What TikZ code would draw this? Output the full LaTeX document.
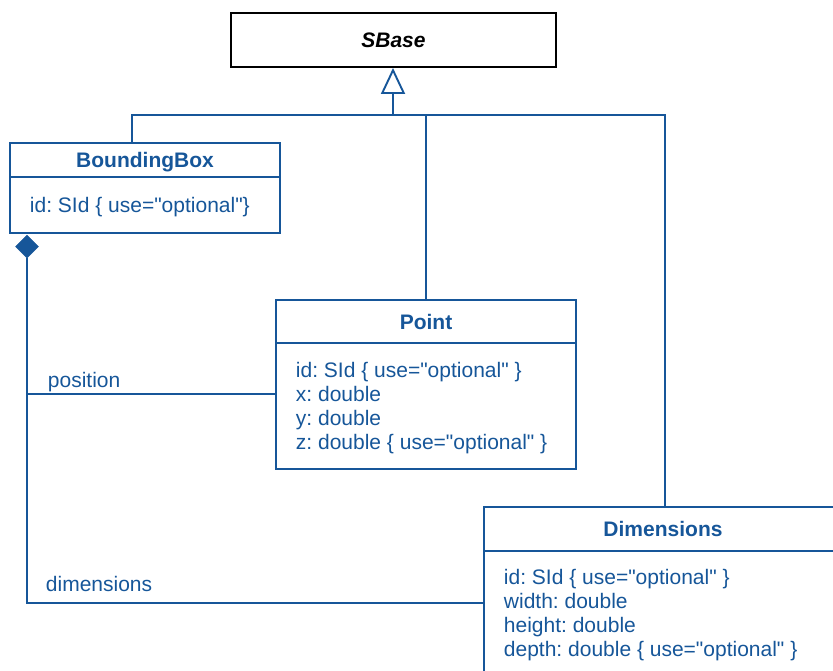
\documentclass[tikz,border=0pt]{standalone}
\usepackage{fontspec}
\setmainfont{Liberation Sans}
\usepackage{tikz}
\usetikzlibrary{arrows.meta,shapes.geometric,calc,positioning}
\definecolor{umlblue}{RGB}{22,86,153}
\newcommand{\opt}{\{ use=\textquotedbl optional\textquotedbl}
\frenchspacing

\begin{document}
\begin{tikzpicture}[x=1pt,y=-1pt,line width=1.9pt,umlblue,
    font=\fontsize{21}{24}\selectfont]
    \tikzstyle{classbox}=[rectangle, draw=umlblue, inner sep=0pt]
    \tikzstyle{classname}=[anchor=base, inner sep=0pt, font=\fontsize{21}{24}\selectfont\bfseries]
    \tikzstyle{attrs}=[anchor=base west, inner sep=0pt, align=left]
    \tikzstyle{rolename}=[anchor=base west, inner sep=0pt]
    \tikzstyle{inherit}=[-{Triangle[open,length=26pt,width=24pt,line width=1.9pt]}]
    \tikzstyle{composite}=[diamond, fill=umlblue, draw=umlblue, line width=0.5pt,
        minimum width=23pt, minimum height=23pt, inner sep=0pt]

    \clip (0,0) rectangle (833,670);

    % base class
    \node[classbox, draw=black, text=black, minimum width=325, minimum height=54]
        (sbase) at (393.5,40) {\textbf{\textit{SBase}}};

    % classes (attribute nodes sit on the baseline of their last line)
    \node[classbox, minimum width=270, minimum height=90] (bbox) at (145,188) {};
    \node[classname] (bboxname) at (145,167) {BoundingBox};
    \draw (bbox.west |- 0,177) -- (bbox.east |- 0,177);
    \node[attrs] (bboxattrs) at (29,212) {id: SId \opt\}};

    \node[classbox, minimum width=300, minimum height=169] (point) at (426,384.5) {};
    \node[classname] (pointname) at (426,329) {Point};
    \draw (point.west |- 0,343) -- (point.east |- 0,343);
    \node[attrs] (pointattrs) at (295,449) {id: SId \opt{} \}\\
        x: double\\ y: double\\ z: double \opt{} \}};

    \node[classbox, minimum width=362, minimum height=192] (dims) at (665,603) {};
    \node[classname] (dimsname) at (663,536) {Dimensions};
    \draw (dims.west |- 0,551) -- (dims.east |- 0,551);
    \node[attrs] (dimsattrs) at (503,656) {id: SId \opt{} \}\\
        width: double\\ height: double\\ depth: double \opt{} \}};

    % inheritance
    \coordinate (gen) at (393,115);
    \draw[inherit] (gen) -- (gen |- sbase.south);
    \draw ([xshift=-13pt]bbox.north) |- (gen) -| (dims.north);
    \draw (gen -| point.north) -- (point.north);

    % composition
    \node[composite] (comp) at (27,246.5) {};
    \draw (comp.south) |- (dims.west);
    \coordinate (posjoin) at (27,394);
    \draw (posjoin) -- (posjoin -| point.west);
    \node[rolename] (poslabel) at (47,387) {position};
    \node[rolename] (dimslabel) at (45,591) {dimensions};

\end{tikzpicture}
\end{document}
